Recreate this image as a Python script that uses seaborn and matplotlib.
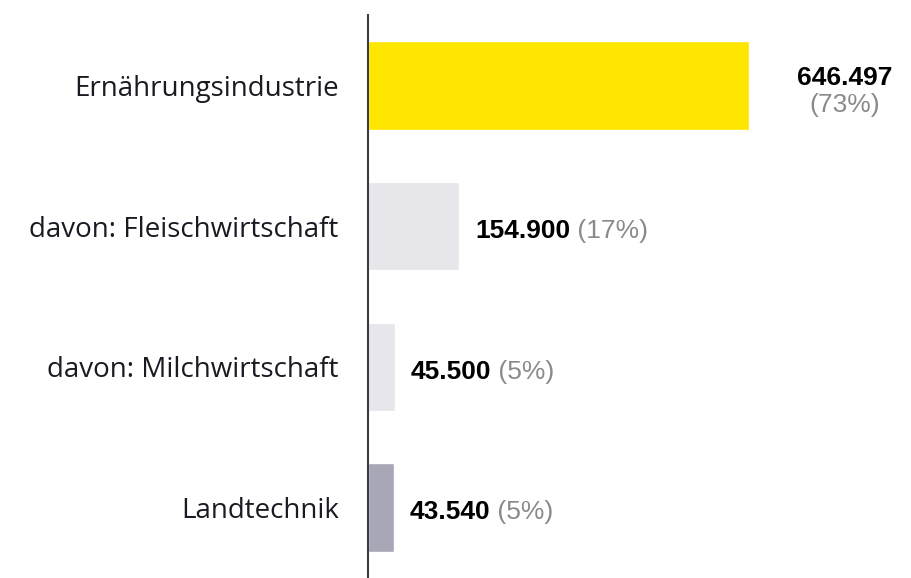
import matplotlib
matplotlib.use("Agg")
import matplotlib.pyplot as plt
import seaborn as sns
import pandas as pd

# --- Data ---
categories = ["Ernährungsindustrie", "davon: Fleischwirtschaft", "davon: Milchwirtschaft", "Landtechnik"]
values = [646497, 154900, 45500, 43540]
value_labels = ["646.497", "154.900", "45.500", "43.540"]
share_labels = ["(73%)", "(17%)", "(5%)", "(5%)"]
bar_colors = ["#FFE600", "#E6E6EB", "#E6E6EB", "#A7A7B8"]

df = pd.DataFrame({"category": categories, "value": values})

sns.set_style("white")
plt.rcParams["font.family"] = ["Open Sans", "DejaVu Sans"]

fig = plt.figure(figsize=(9.12, 5.78), dpi=100)
ax = fig.add_axes([368 / 912, 0, 532 / 912, 563 / 578])

sns.barplot(data=df, y="category", x="value", hue="category", palette=bar_colors,
            orient="h", width=0.63, legend=False, ax=ax, saturation=1)

ax.set_xlim(0, 903000)
ax.set_ylim(3.5, -0.5)
ax.set_xlabel("")
ax.set_ylabel("")
ax.set_xticks([])
ax.tick_params(axis="y", length=0, pad=21, labelsize=20, labelcolor="#1A1A24")

for side in ["top", "right", "bottom"]:
    ax.spines[side].set_visible(False)
ax.spines["left"].set_color("#3A3A44")
ax.spines["left"].set_linewidth(1.5)

num_font = dict(family=["Liberation Sans", "DejaVu Sans"], fontsize=19)

for i, (v, vl, sl) in enumerate(zip(values, value_labels, share_labels)):
    if i == 0:
        # big bar: two-line label to the right
        ax.annotate(vl, xy=(v, i), xytext=(69, 5.5), textcoords="offset points",
                    ha="center", va="center", fontweight="bold", color="black", **num_font)
        ax.annotate(sl, xy=(v, i), xytext=(69, -14), textcoords="offset points",
                    ha="center", va="center", color="#8A8A8A", **num_font)
    else:
        t = ax.annotate(vl, xy=(v, i), xytext=(11.5, -3.5), textcoords="offset points",
                        ha="left", va="center", fontweight="bold", color="black", **num_font)
        ax.annotate(" " + sl, xy=(1, 0), xycoords=t, ha="left", va="bottom",
                    color="#8A8A8A", **num_font)

fig.savefig("out.png", dpi=100)
